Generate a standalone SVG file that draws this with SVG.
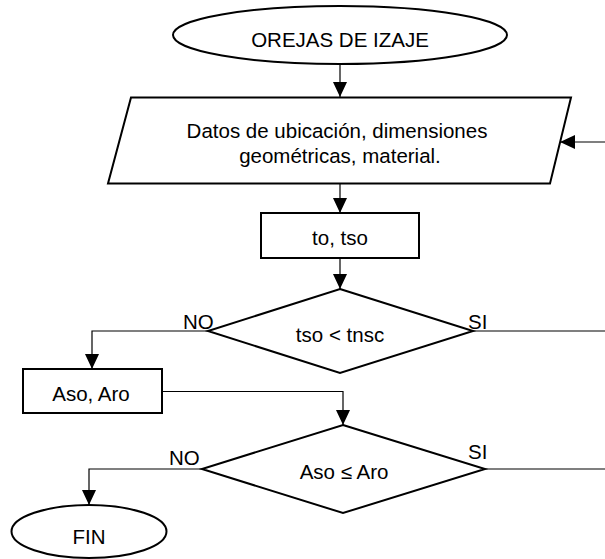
<svg xmlns="http://www.w3.org/2000/svg" width="605" height="559" viewBox="0 0 605 559">
  <defs>
    <marker id="arrow" viewBox="0 0 15 14" refX="15" refY="7" markerWidth="15" markerHeight="14" markerUnits="userSpaceOnUse" orient="auto">
      <path d="M0,0 L15,7 L0,14 Z" fill="#000"/>
    </marker>
    <style>
      .shape { fill: #fff; stroke: #000; stroke-width: 2; }
      .conn { fill: none; stroke: #000; stroke-width: 1.2; }
      .arrow { marker-end: url(#arrow); }
      text { font-family: "Liberation Sans", Arial, sans-serif; font-size: 20.5px; fill: #000; }
      .c { text-anchor: middle; }
    </style>
  </defs>
  <rect width="605" height="559" fill="#fff"/>

  <!-- connectors -->
  <g id="connectors">
    <line class="conn arrow" x1="340" y1="64" x2="340" y2="97"/>
    <line class="conn arrow" x1="605" y1="142" x2="560" y2="142"/>
    <line class="conn arrow" x1="340" y1="183.5" x2="340" y2="213"/>
    <line class="conn arrow" x1="340" y1="258" x2="340" y2="289"/>
    <polyline class="conn arrow" points="208,331 92,331 92,369"/>
    <line class="conn" x1="473" y1="331" x2="605" y2="331"/>
    <polyline class="conn arrow" points="162,391.5 343,391.5 343,425"/>
    <line class="conn" x1="485" y1="469" x2="605" y2="469"/>
    <polyline class="conn arrow" points="202,469 89,469 89,505"/>
    <text x="183" y="329">NO</text>
    <text x="468" y="329">SI</text>
    <text x="169" y="465">NO</text>
    <text x="468" y="459">SI</text>
  </g>

  <!-- start terminal -->
  <g id="start">
    <ellipse class="shape" cx="340" cy="35" rx="167" ry="29"/>
    <text class="c" x="340" y="47">OREJAS DE IZAJE</text>
  </g>

  <!-- input data -->
  <g id="input">
    <polygon class="shape" points="131,97.5 571,97.5 550,183.5 108,183.5"/>
    <text class="c" x="337" y="138">Datos de ubicación, dimensiones</text>
    <text class="c" x="340" y="163">geométricas, material.</text>
  </g>

  <!-- thickness process -->
  <g id="thickness">
    <rect class="shape" x="261" y="213" width="158" height="45"/>
    <text class="c" x="340" y="245">to, tso</text>
  </g>

  <!-- first decision -->
  <g id="decision1">
    <polygon class="shape" points="340,289 473,331 340,373 208,331"/>
    <text class="c" x="340" y="342">tso &lt; tnsc</text>
  </g>

  <!-- area process -->
  <g id="areas">
    <rect class="shape" x="23" y="369" width="139" height="44"/>
    <text class="c" x="91" y="401">Aso, Aro</text>
  </g>

  <!-- second decision -->
  <g id="decision2">
    <polygon class="shape" points="343,425 485,469 343,513 202,469"/>
    <text class="c" x="344" y="479">Aso ≤ Aro</text>
  </g>

  <!-- end terminal -->
  <g id="end">
    <ellipse class="shape" cx="89" cy="531.5" rx="77.5" ry="26.5"/>
    <text class="c" x="89" y="544">FIN</text>
  </g>
</svg>
